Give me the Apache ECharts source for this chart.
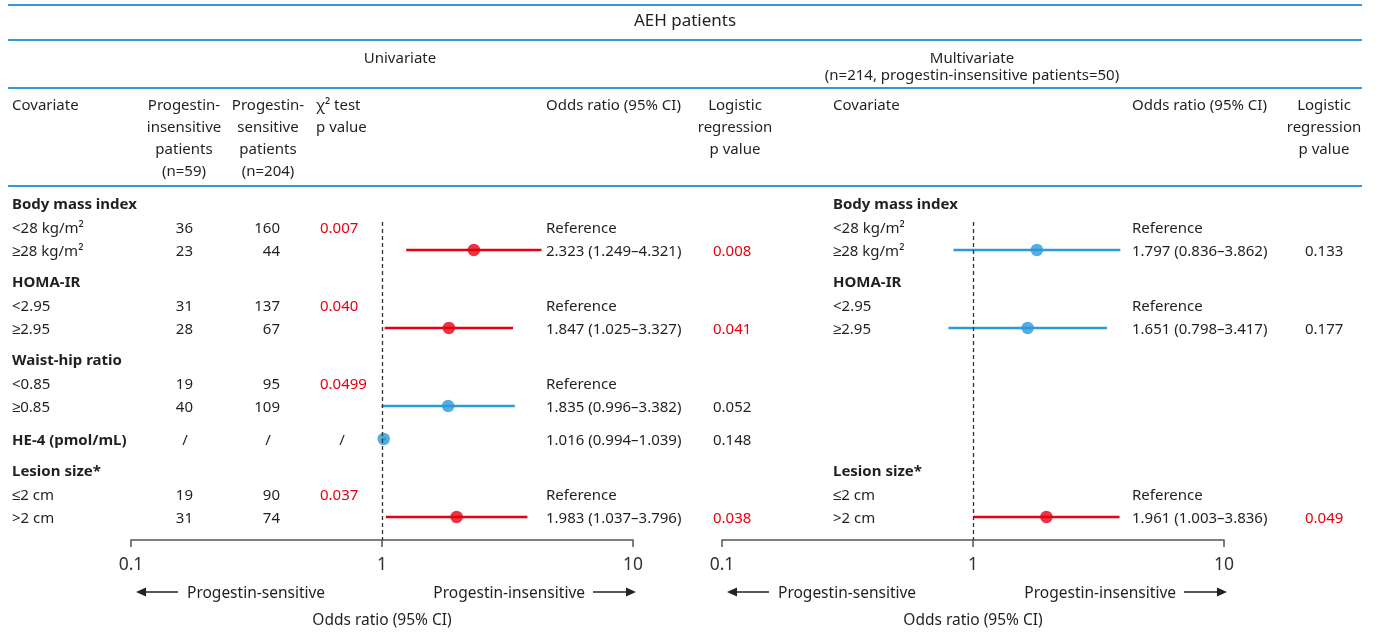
<!DOCTYPE html>
<html><head><meta charset="utf-8">
<script src="https://cdn.jsdelivr.net/npm/echarts@6/dist/echarts.min.js"></script>
<style>html,body{margin:0;padding:0;background:#fff}#c{width:1379px;height:632px}</style>
</head><body><div id="c"></div>
<script>
// ---------- data ----------
const covariates   = ['Body mass index','<28 kg/m²','≥28 kg/m²','HOMA-IR','<2.95','≥2.95','Waist-hip ratio','<0.85','≥0.85','HE-4 (pmol/mL)','Lesion size*','≤2 cm','>2 cm'];
const rowKinds     = ['head','sub','sub','head','sub','sub','head','sub','sub','single','head','sub','sub'];
const nInsensitive = ['','36','23','','31','28','','19','40','/','','19','31'];
const nSensitive   = ['','160','44','','137','67','','95','109','/','','90','74'];
const chiP         = ['','0.007','','','0.040','','','0.0499','','/','','0.037',''];
const uniReference = [1,4,7,11];
const uniOR   = [null,null,2.323,null,null,1.847,null,null,1.835,1.016,null,null,1.983];
const uniLow  = [null,null,1.249,null,null,1.025,null,null,0.996,0.994,null,null,1.037];
const uniHigh = [null,null,4.321,null,null,3.327,null,null,3.382,1.039,null,null,3.796];
const uniLogP = ['','','0.008','','','0.041','','','0.052','0.148','','','0.038'];

const multiCovariates = ['Body mass index','<28 kg/m²','≥28 kg/m²','HOMA-IR','<2.95','≥2.95','','','','','Lesion size*','≤2 cm','>2 cm'];
const multiReference  = [1,4,11];
const multiOR   = [null,null,1.797,null,null,1.651,null,null,null,null,null,null,1.961];
const multiLow  = [null,null,0.836,null,null,0.798,null,null,null,null,null,null,1.003];
const multiHigh = [null,null,3.862,null,null,3.417,null,null,null,null,null,null,3.836];
const multiLogP = ['','','0.133','','','0.177','','','','','','','0.049'];

const tickValues = [0.1, 1, 10];
const tickLabels = ['0.1', '1', '10'];

// ---------- style / layout ----------
const FONT = '"Noto Sans", "Liberation Sans", sans-serif';
const TEXT = '#231f20';
const RED = '#e60012';
const BLUE = '#2b9ad8';
const RULE = '#3399d6';
const AXIS = '#555555';
const ROW0 = 203;           // pixel centre of first body row
const TEXT_DY = 2;          // baseline correction for the font
const GRID_TOP = 222, GRID_BOTTOM = 540;
const PANELS = [{left: 131, width: 502}, {left: 722, width: 502}];

// vertical offsets of rows, from row structure
const GAP = {'head>sub': 23.5, 'sub>sub': 23.5, 'sub>head': 31, 'sub>single': 33, 'single>head': 31};
const rowPos = [];
rowKinds.forEach((k, i) => {
  rowPos.push(i === 0 ? 0 : rowPos[i - 1] + GAP[rowKinds[i - 1] + '>' + k]);
});
const rowY = i => ROW0 + rowPos[i];

const fmt = v => v.toFixed(3);
const isSig = p => p !== '' && p !== '/' && parseFloat(p) < 0.05;

function txt(x, y, s, o = {}) {
  return {
    type: 'text', x, y: y + TEXT_DY, silent: true,
    style: {
      text: s, fill: o.fill || TEXT,
      font: (o.bold ? 'bold ' : '') + (o.size || 15) + 'px ' + FONT,
      align: o.align || 'left', verticalAlign: 'middle'
    }
  };
}
function hline(x1, x2, y, color, w) {
  return {type: 'line', silent: true, shape: {x1, y1: y, x2, y2: y}, style: {stroke: color, lineWidth: w}};
}

const graphics = [];
// rules
[5, 40, 88, 186].forEach(y => graphics.push(hline(8, 1362, y, RULE, 2)));
// titles
graphics.push(txt(685, 19, 'AEH patients', {align: 'center', size: 17}));
graphics.push(txt(400, 57, 'Univariate', {align: 'center'}));
graphics.push(txt(972, 57, 'Multivariate', {align: 'center'}));
graphics.push(txt(972, 74, '(n=214, progestin-insensitive patients=50)', {align: 'center'}));
// column headers
const H0 = 104, HL = 22;
function block(x, lines, align) { lines.forEach((l, k) => graphics.push(txt(x, H0 + k * HL, l, {align}))); }
block(12, ['Covariate'], 'left');
block(184, ['Progestin-', 'insensitive', 'patients', '(n=59)'], 'center');
block(268, ['Progestin-', 'sensitive', 'patients', '(n=204)'], 'center');
block(316, ['χ² test', 'p value'], 'left');
block(546, ['Odds ratio (95% CI)'], 'left');
block(735, ['Logistic', 'regression', 'p value'], 'center');
block(833, ['Covariate'], 'left');
block(1132, ['Odds ratio (95% CI)'], 'left');
block(1324, ['Logistic', 'regression', 'p value'], 'center');

// body rows
covariates.forEach((c, i) => {
  const y = rowY(i);
  const bold = rowKinds[i] !== 'sub';
  graphics.push(txt(12, y, c, {bold}));
  if (nInsensitive[i]) graphics.push(nInsensitive[i] === '/' ? txt(185, y, '/', {align: 'center'}) : txt(193, y, nInsensitive[i], {align: 'right'}));
  if (nSensitive[i]) graphics.push(nSensitive[i] === '/' ? txt(268, y, '/', {align: 'center'}) : txt(280, y, nSensitive[i], {align: 'right'}));
  if (chiP[i]) graphics.push(chiP[i] === '/' ? txt(342, y, '/', {align: 'center'}) : txt(320, y, chiP[i], {fill: isSig(chiP[i]) ? RED : TEXT}));
  if (uniReference.includes(i)) graphics.push(txt(546, y, 'Reference'));
  if (uniOR[i] != null) graphics.push(txt(546, y, fmt(uniOR[i]) + ' (' + fmt(uniLow[i]) + '–' + fmt(uniHigh[i]) + ')'));
  if (uniLogP[i]) graphics.push(txt(713, y, uniLogP[i], {fill: isSig(uniLogP[i]) ? RED : TEXT}));

  if (multiCovariates[i]) graphics.push(txt(833, y, multiCovariates[i], {bold}));
  if (multiReference.includes(i)) graphics.push(txt(1132, y, 'Reference'));
  if (multiOR[i] != null) graphics.push(txt(1132, y, fmt(multiOR[i]) + ' (' + fmt(multiLow[i]) + '–' + fmt(multiHigh[i]) + ')'));
  if (multiLogP[i]) graphics.push(txt(1305, y, multiLogP[i], {fill: isSig(multiLogP[i]) ? RED : TEXT}));
});

// direction arrows and axis titles
PANELS.forEach(p => {
  const p0 = p.left, p1 = p.left + p.width, mid = p.left + p.width / 2, ay = 592;
  graphics.push(hline(p0 + 14, p0 + 47, ay, '#222', 1.4));
  graphics.push({type: 'polygon', silent: true, shape: {points: [[p0 + 5, ay], [p0 + 15, ay - 4.5], [p0 + 15, ay + 4.5]]}, style: {fill: '#222'}});
  graphics.push(txt(p0 + 56, ay, 'Progestin-sensitive', {size: 15.5}));
  graphics.push(txt(p1 - 48, ay, 'Progestin-insensitive', {size: 15.5, align: 'right'}));
  graphics.push(hline(p1 - 40, p1 - 6, ay, '#222', 1.4));
  graphics.push({type: 'polygon', silent: true, shape: {points: [[p1 + 3, ay], [p1 - 7, ay - 4.5], [p1 - 7, ay + 4.5]]}, style: {fill: '#222'}});
  graphics.push(txt(mid, 619, 'Odds ratio (95% CI)', {size: 15.5, align: 'center'}));
});

// ---------- chart ----------
function panelSeries(gi, ors, lows, highs, ps) {
  const ci = [], pts = [];
  ors.forEach((o, i) => {
    if (o == null) return;
    const sig = isSig(ps[i]);
    ci.push([lows[i], highs[i], rowPos[i], sig ? 1 : 0]);
    pts.push({value: [o, rowPos[i]], itemStyle: {color: sig ? RED : BLUE}});
  });
  return [
    {
      type: 'custom', xAxisIndex: gi, yAxisIndex: gi, silent: true, clip: false,
      encode: {x: [0, 1], y: 2},
      data: ci,
      renderItem: (params, api) => {
        const a = api.coord([api.value(0), api.value(2)]);
        const b = api.coord([api.value(1), api.value(2)]);
        return {type: 'line', shape: {x1: a[0], y1: a[1], x2: b[0], y2: b[1]},
                style: {stroke: api.value(3) ? RED : BLUE, lineWidth: 2.6}};
      },
      z: 3
    },
    {
      type: 'scatter', xAxisIndex: gi, yAxisIndex: gi, silent: true,
      symbol: 'circle', symbolSize: 12.5, data: pts, z: 4,
      markLine: {
        silent: true, symbol: 'none', animation: false,
        label: {show: false},
        lineStyle: {type: [4, 3], color: '#333', width: 1.3},
        data: [{xAxis: 1}]
      }
    }
  ];
}

const chart = echarts.init(document.getElementById('c'), null, {renderer: 'canvas'});
const xAxisBase = {
  type: 'log', logBase: 10, min: 0.1, max: 10,
  splitLine: {show: false},
  axisLine: {show: true, onZero: false, lineStyle: {color: AXIS, width: 1.5}},
  axisTick: {show: true, inside: false, length: 7, lineStyle: {color: AXIS, width: 1.5}},
  axisLabel: {
    margin: 16, color: '#333', fontSize: 17.5, fontFamily: FONT,
    formatter: v => {
      let best = 0;
      tickValues.forEach((t, k) => { if (Math.abs(Math.log10(t) - Math.log10(v)) < Math.abs(Math.log10(tickValues[best]) - Math.log10(v))) best = k; });
      return tickLabels[best];
    }
  }
};
const yAxisBase = {
  type: 'value', inverse: true, min: GRID_TOP - ROW0, max: GRID_BOTTOM - ROW0,
  show: false
};
chart.setOption({
  animation: false,
  backgroundColor: '#fff',
  grid: PANELS.map(p => ({left: p.left, width: p.width, top: GRID_TOP, height: GRID_BOTTOM - GRID_TOP})),
  xAxis: PANELS.map((p, i) => Object.assign({gridIndex: i, position: 'bottom'}, xAxisBase)),
  yAxis: PANELS.map((p, i) => Object.assign({gridIndex: i}, yAxisBase)),
  series: [
    ...panelSeries(0, uniOR, uniLow, uniHigh, uniLogP),
    ...panelSeries(1, multiOR, multiLow, multiHigh, multiLogP)
  ],
  graphic: graphics
});
</script>
</body></html>
